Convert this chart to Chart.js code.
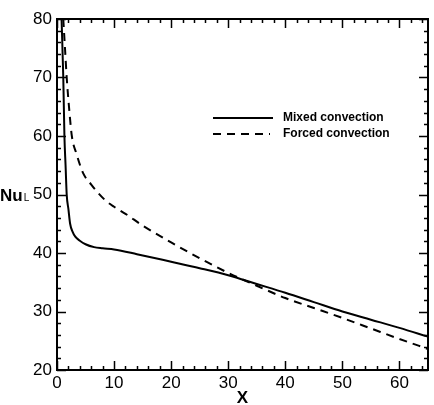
<!DOCTYPE html>
<html>
<head>
<meta charset="utf-8">
<script src="https://cdn.jsdelivr.net/npm/chart.js@4.4.1/dist/chart.umd.min.js"></script>
<style>
  html, body { margin: 0; padding: 0; background: #fff; }
  canvas { display: block; }
</style>
</head>
<body>
<canvas id="nuChart" width="434" height="405"></canvas>
<script>
const mixedX = [0.8, 1.1, 1.3, 1.5, 1.7, 2.0, 2.3, 2.7, 3.2, 4, 5, 6.5, 8, 10, 14, 20, 25, 30, 35, 40, 45, 50, 55, 60, 65];
const mixedY = [80, 70, 60, 55, 50, 47.5, 45, 43.7, 42.8, 42.1, 41.5, 41, 40.8, 40.6, 39.8, 38.5, 37.4, 36.2, 34.7, 33.2, 31.6, 30.0, 28.6, 27.2, 25.7];

const forcedX = [1.1, 1.4, 1.7, 2.1, 2.6, 3.4, 4.6, 6, 7, 8.7, 10, 12, 15, 20, 25, 30, 35, 40, 45, 50, 55, 60, 65];
const forcedY = [80, 75, 70, 65, 60, 57, 53.6, 51.7, 50.5, 48.8, 47.9, 46.7, 44.7, 41.8, 39.1, 36.6, 34.4, 32.3, 30.6, 28.9, 27.1, 25.3, 23.6];

const xTickValues = [0, 10, 20, 30, 40, 50, 60];
const yTickValues = [20, 30, 40, 50, 60, 70, 80];

const seriesNames = ["Mixed convection", "Forced convection"];
const xTitle = "X";
const yTitle = "Nu";
const yTitleSub = "L";

const fontFamily = "'Liberation Sans', Arial, sans-serif";

function toPoints(xs, ys) {
  return xs.map((x, i) => ({ x, y: ys[i] }));
}

// frame, inward ticks on all four sides, axis titles and legend
const framePlugin = {
  id: "frame",
  afterDraw(chart) {
    const { ctx, chartArea: area, scales } = chart;
    const xs = scales.x;
    const ys = scales.y;
    ctx.save();
    ctx.strokeStyle = "#000";
    ctx.lineWidth = 2;
    ctx.strokeRect(area.left, area.top, area.right - area.left, area.bottom - area.top);

    ctx.lineWidth = 1.5;
    ctx.beginPath();
    for (let v = xs.min; v <= xs.max; v += 2) {
      const px = Math.round(xs.getPixelForValue(v)) + 0.5;
      const len = v % 10 === 0 ? 9 : 4;
      ctx.moveTo(px, area.bottom);
      ctx.lineTo(px, area.bottom - len);
      ctx.moveTo(px, area.top);
      ctx.lineTo(px, area.top + len);
    }
    for (let v = ys.min; v <= ys.max; v += 2) {
      const py = Math.round(ys.getPixelForValue(v)) + 0.5;
      const len = v % 10 === 0 ? 9 : 4;
      ctx.moveTo(area.left, py);
      ctx.lineTo(area.left + len, py);
      ctx.moveTo(area.right, py);
      ctx.lineTo(area.right - len, py);
    }
    ctx.stroke();

    ctx.fillStyle = "#000";
    ctx.textBaseline = "alphabetic";
    ctx.font = "bold 17px " + fontFamily;
    ctx.textAlign = "center";
    ctx.fillText(xTitle, (area.left + area.right) / 2, 403);

    ctx.textAlign = "left";
    const yBase = ys.getPixelForValue(50) + 6;
    ctx.fillText(yTitle, 0, yBase);
    const w = ctx.measureText(yTitle).width;
    ctx.font = "10px " + fontFamily;
    ctx.fillText(yTitleSub, w + 1, yBase);

    // legend
    ctx.font = "bold 12px " + fontFamily;
    ctx.textBaseline = "middle";
    chart.data.datasets.forEach((ds, i) => {
      const ly = 118 + i * 16;
      ctx.beginPath();
      ctx.lineWidth = 2;
      ctx.setLineDash(ds.borderDash || []);
      ctx.moveTo(213, ly);
      ctx.lineTo(i === 0 ? 273 : 270, ly);
      ctx.stroke();
      ctx.setLineDash([]);
      ctx.fillText(ds.label, 283, ly);
    });
    ctx.restore();
  }
};

new Chart(document.getElementById("nuChart"), {
  type: "scatter",
  data: {
    datasets: [
      {
        label: seriesNames[0],
        data: toPoints(mixedX, mixedY),
        showLine: true,
        borderColor: "#000",
        borderWidth: 2,
        pointRadius: 0,
        cubicInterpolationMode: "monotone"
      },
      {
        label: seriesNames[1],
        data: toPoints(forcedX, forcedY),
        showLine: true,
        borderColor: "#000",
        borderWidth: 2,
        borderDash: [8, 6],
        pointRadius: 0,
        cubicInterpolationMode: "monotone"
      }
    ]
  },
  options: {
    responsive: false,
    animation: false,
    layout: { padding: { left: 0, right: 6, top: 19, bottom: 0 } },
    plugins: {
      legend: { display: false },
      tooltip: { enabled: false }
    },
    scales: {
      x: {
        type: "linear",
        min: 0,
        max: 65,
        afterBuildTicks: (s) => { s.ticks = xTickValues.map((value) => ({ value })); },
        afterFit: (s) => { s.height = 35; },
        grid: { display: false, drawTicks: false },
        border: { display: false },
        ticks: {
          padding: 3,
          color: "#000",
          font: { family: fontFamily, size: 17 }
        }
      },
      y: {
        type: "linear",
        min: 20,
        max: 80,
        afterBuildTicks: (s) => { s.ticks = yTickValues.map((value) => ({ value })); },
        afterFit: (s) => { s.width = 57; },
        grid: { display: false, drawTicks: false },
        border: { display: false },
        ticks: {
          padding: 5,
          color: "#000",
          font: { family: fontFamily, size: 17 }
        }
      }
    }
  },
  plugins: [framePlugin]
});
</script>
</body>
</html>
